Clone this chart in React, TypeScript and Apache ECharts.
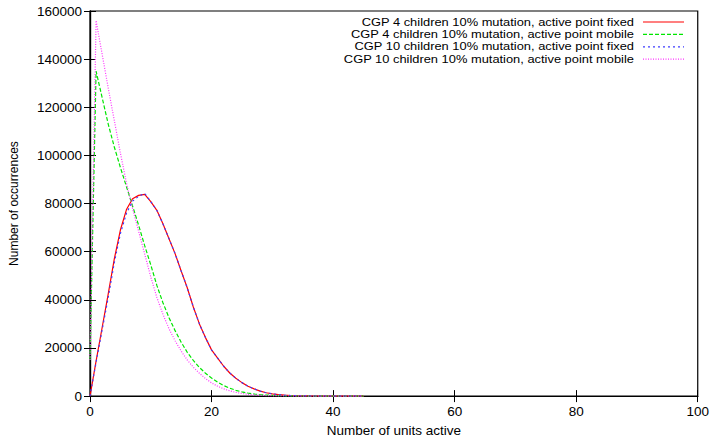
import React, { useEffect, useRef } from "react";
import * as echarts from "echarts";

const xValues = [
  0, 1, 2, 3, 4, 5, 6, 7, 8, 9, 10, 11, 12, 13, 14, 15, 16, 17, 18, 19, 20,
  21, 22, 23, 24, 25, 26, 27, 28, 29, 30, 31, 32, 33, 34, 35, 36, 37, 38, 39,
  40, 41, 42, 43, 44, 45,
];

const cgp4Fixed = [
  0, 14500, 28500, 42500, 57000, 69000, 77500, 82000, 83400, 83800, 80800,
  77200, 71600, 65400, 59200, 52000, 45000, 37000, 30000, 24300, 19200, 15800,
  12400, 9600, 7400, 5600, 4100, 3000, 2050, 1400, 950, 650, 400, 250, 160,
  100, 60, 35, 20, 10, 5, 3, 2, 1, 0, 0,
];

const cgp4Mobile = [
  15000, 135000, 124000, 113000, 103500, 95000, 87000, 79000, 71000, 62500,
  54500, 46000, 38800, 32600, 27200, 22400, 18200, 14800, 11900, 9500, 7500,
  5800, 4400, 3300, 2400, 1750, 1250, 880, 620, 430, 300, 200, 135, 90, 60, 40,
  26, 17, 11, 7, 4, 3, 2, 1, 0, 0,
];

const cgp10Fixed = [
  0, 14000, 27500, 41000, 55500, 67500, 76000, 81000, 83000, 84200, 80800,
  77200, 71600, 65400, 59200, 52000, 45000, 37000, 30000, 24300, 19200, 15800,
  12400, 9600, 7400, 5600, 4100, 3000, 2050, 1400, 950, 650, 400, 250, 160,
  100, 60, 35, 20, 10, 5, 3, 2, 1, 0, 0,
];

const cgp10Mobile = [
  15000, 156000, 142000, 128000, 114500, 101000, 88500, 78000, 68500, 59000,
  49500, 41000, 34000, 28000, 23000, 18700, 15000, 12000, 9500, 7300, 5500,
  4100, 3000, 2200, 1550, 1100, 750, 500, 340, 220, 140, 90, 55, 35, 22, 14, 9,
  5, 3, 2, 1, 1, 0, 0, 0, 0,
];

const seriesNames = [
  "CGP 4 children 10% mutation, active point fixed",
  "CGP 4 children 10% mutation, active point mobile",
  "CGP 10 children 10% mutation, active point fixed",
  "CGP 10 children 10% mutation, active point mobile",
];
const seriesData = [cgp4Fixed, cgp4Mobile, cgp10Fixed, cgp10Mobile];
const seriesColors = ["#ff0000", "#00e600", "#3c3cff", "#ff33ff"];
const seriesDash: (number[] | "solid")[] = ["solid", [4, 2], [2, 3], [1, 1.5]];

const xTicks = { min: 0, max: 100, interval: 20 };
const yTicks = { min: 0, max: 160000, interval: 20000 };

const FONT = "Liberation Sans";
const FS = 13.5;

export default function App() {
  const ref = useRef<HTMLDivElement>(null);
  useEffect(() => {
    if (!ref.current) return;
    const chart = echarts.init(ref.current, null, { renderer: "svg" });

    const gridLeft = 89;
    const gridTop = 11;
    const gridRight = 8;
    const gridBottom = 43;

    const legendTextRight = 634;
    const legendLineX1 = 643;
    const legendLineX2 = 684;
    const legendY0 = 22;
    const legendDY = 12.4;

    const graphic: any[] = [];
    seriesNames.forEach((name, i) => {
      const y = legendY0 + i * legendDY;
      graphic.push({
        type: "text",
        x: legendTextRight,
        y,
        scaleX: 1.17,
        style: {
          text: name,
          align: "right",
          verticalAlign: "middle",
          fontFamily: FONT,
          fontSize: 11,
          lineHeight: 11,
          fill: "#000",
        },
      });
      graphic.push({
        type: "line",
        shape: { x1: legendLineX1, y1: y, x2: legendLineX2, y2: y },
        style: {
          stroke: seriesColors[i],
          lineWidth: 1.2,
          lineDash: seriesDash[i] === "solid" ? null : seriesDash[i],
        },
      });
    });

    const axisCommon = {
      type: "value" as const,
      axisLine: { show: true, lineStyle: { color: "#000", width: 1.2 } },
      axisTick: { show: true, inside: true, length: 6, lineStyle: { color: "#000" } },
      splitLine: { show: false },
    };

    chart.setOption({
      animation: false,
      backgroundColor: "#fff",
      textStyle: { fontFamily: FONT },
      grid: {
        left: gridLeft,
        right: gridRight,
        top: gridTop,
        bottom: gridBottom,
        show: true,
        borderColor: "#000",
        borderWidth: 1.2,
      },
      xAxis: [
        {
          ...axisCommon,
          position: "bottom",
          ...xTicks,
          axisLabel: { color: "#000", fontSize: FS, fontFamily: FONT, margin: 8 },
          name: "Number of units active",
          nameLocation: "middle",
          nameGap: 26,
          nameTextStyle: { color: "#000", fontSize: FS, fontFamily: FONT },
        },
        {
          ...axisCommon,
          position: "top",
          ...xTicks,
          axisLabel: { show: false },
        },
      ],
      yAxis: [
        {
          ...axisCommon,
          position: "left",
          ...yTicks,
          axisLabel: {
            color: "#000",
            fontSize: FS,
            fontFamily: FONT,
            margin: 8,
            formatter: (v: number) => String(v),
          },
          name: "Number of occurrences",
          nameLocation: "middle",
          nameGap: 70,
          nameTextStyle: { color: "#000", fontSize: 12, fontFamily: FONT },
        },
        {
          ...axisCommon,
          position: "right",
          ...yTicks,
          axisLabel: { show: false },
        },
      ],
      graphic,
      series: seriesNames.map((name, i) => ({
        name,
        type: "line",
        xAxisIndex: 0,
        yAxisIndex: 0,
        data: xValues.map((x, k) => [x, seriesData[i][k]]),
        showSymbol: false,
        symbol: "none",
        lineStyle: {
          color: seriesColors[i],
          width: 1.2,
          type: seriesDash[i],
        },
        itemStyle: { color: seriesColors[i] },
        z: 2 + i,
      })),
    });
    return () => chart.dispose();
  }, []);
  return (
    <div
      ref={ref}
      style={{ position: "absolute", left: 0, top: 0, width: 712, height: 442 }}
    />
  );
}
